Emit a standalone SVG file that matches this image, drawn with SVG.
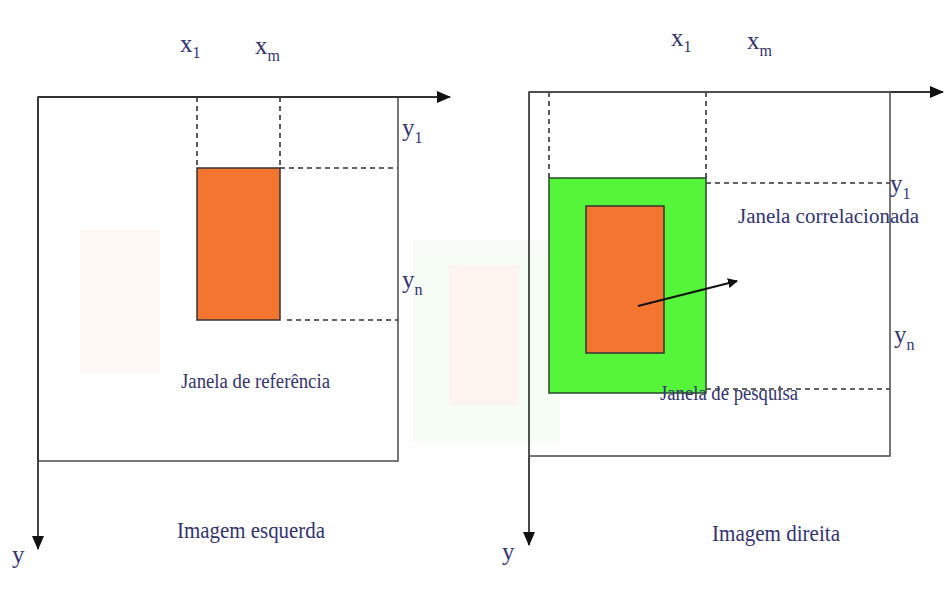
<svg xmlns="http://www.w3.org/2000/svg" width="944" height="594" viewBox="0 0 944 594">
<style>
text{font-family:"Liberation Serif","DejaVu Serif","Times New Roman",serif;fill:#34346e}
.lbl{font-size:20px}
.cap{font-size:23px}
.var{font-size:25px}
.sub{font-size:16px}
.ax{stroke:#333;stroke-width:1.8;fill:none}
.box{stroke:#555;stroke-width:1.6;fill:none}
.dash{stroke:#333;stroke-width:1.6;stroke-dasharray:5,4;fill:none}
.org{fill:#f47530;stroke:#333;stroke-width:1.5}
.grn{fill:#55f53a;stroke:#2a4a2a;stroke-width:1.5}
</style>
<defs>
<marker id="ah" markerWidth="10" markerHeight="10" refX="9" refY="5" orient="auto" markerUnits="userSpaceOnUse" viewBox="0 0 10 10">
<path d="M0,0 L10,5 L0,10 z" fill="#111"/>
</marker>
<marker id="ah2" markerWidth="14" markerHeight="12" refX="13" refY="6" orient="auto" markerUnits="userSpaceOnUse" viewBox="0 0 14 12">
<path d="M0,0 L14,6 L0,12 z" fill="#111"/>
</marker>
</defs>
<rect width="944" height="594" fill="#fff"/>
<g id="ghost" opacity="0.4">
<rect x="80" y="230" width="80" height="143" fill="#fdeee6"/>
<rect x="413" y="240" width="147" height="203" fill="#eafbe8"/>
<rect x="449" y="265" width="70" height="140" fill="#fbe6dc"/>
</g>
<g id="left-frame">
<rect class="box" x="38" y="97" width="360" height="364"/>
</g>
<g id="left-ref-window">
<rect class="org" x="197" y="168" width="83" height="152"/>
</g>
<g id="connectors">
<line class="ax" x1="38" y1="97" x2="450" y2="97" marker-end="url(#ah2)"/>
<line class="ax" x1="38" y1="97" x2="38" y2="549" marker-end="url(#ah2)"/>
<line class="dash" x1="197" y1="97" x2="197" y2="168"/>
<line class="dash" x1="280" y1="97" x2="280" y2="168"/>
<line class="dash" x1="280" y1="168" x2="398" y2="168"/>
<line class="dash" x1="287" y1="320" x2="398" y2="320"/>
<line class="ax" x1="529" y1="92" x2="943" y2="92" marker-end="url(#ah2)"/>
<line class="ax" x1="529" y1="92" x2="529" y2="545" marker-end="url(#ah2)"/>
<line class="dash" x1="549" y1="92" x2="549" y2="178"/>
<line class="dash" x1="706" y1="92" x2="706" y2="178"/>
<line class="dash" x1="706" y1="183" x2="890" y2="183"/>
<line class="dash" x1="706" y1="389" x2="890" y2="389"/>
</g>
<g id="left-labels">
<text class="var" x="180" y="52">x<tspan class="sub" dy="6">1</tspan></text>
<text class="var" x="255" y="54">x<tspan class="sub" dy="7">m</tspan></text>
<text class="var" x="402" y="136">y<tspan class="sub" dy="7">1</tspan></text>
<text class="var" x="402" y="288">y<tspan class="sub" dy="7">n</tspan></text>
<text class="lbl" x="181" y="388" textLength="149" lengthAdjust="spacingAndGlyphs">Janela de referência</text>
<text class="cap" x="177" y="538" textLength="148" lengthAdjust="spacingAndGlyphs">Imagem esquerda</text>
<text class="var" x="12" y="563">y</text>
</g>
<g id="right-frame">
<rect class="box" x="529" y="92" width="361" height="364"/>
</g>
<g id="right-search-window">
<rect class="grn" x="549" y="178" width="157" height="215"/>
</g>
<g id="right-corr-window">
<rect class="org" x="586" y="206" width="78" height="147"/>
</g>
<g id="motion-arrow">
<line x1="638" y1="306" x2="737" y2="281" stroke="#111" stroke-width="2" marker-end="url(#ah)"/>
</g>
<g id="right-labels">
<text class="var" x="671" y="46">x<tspan class="sub" dy="6">1</tspan></text>
<text class="var" x="747" y="49">x<tspan class="sub" dy="7">m</tspan></text>
<text class="var" x="890" y="192">y<tspan class="sub" dy="7">1</tspan></text>
<text class="var" x="894" y="343">y<tspan class="sub" dy="7">n</tspan></text>
<text class="lbl" x="738" y="223" textLength="181" lengthAdjust="spacingAndGlyphs">Janela correlacionada</text>
<text class="lbl" x="660" y="400" textLength="138" lengthAdjust="spacingAndGlyphs">Janela de pesquisa</text>
<text class="cap" x="712" y="541" textLength="128" lengthAdjust="spacingAndGlyphs">Imagem direita</text>
<text class="var" x="502" y="560">y</text>
</g>
</svg>
